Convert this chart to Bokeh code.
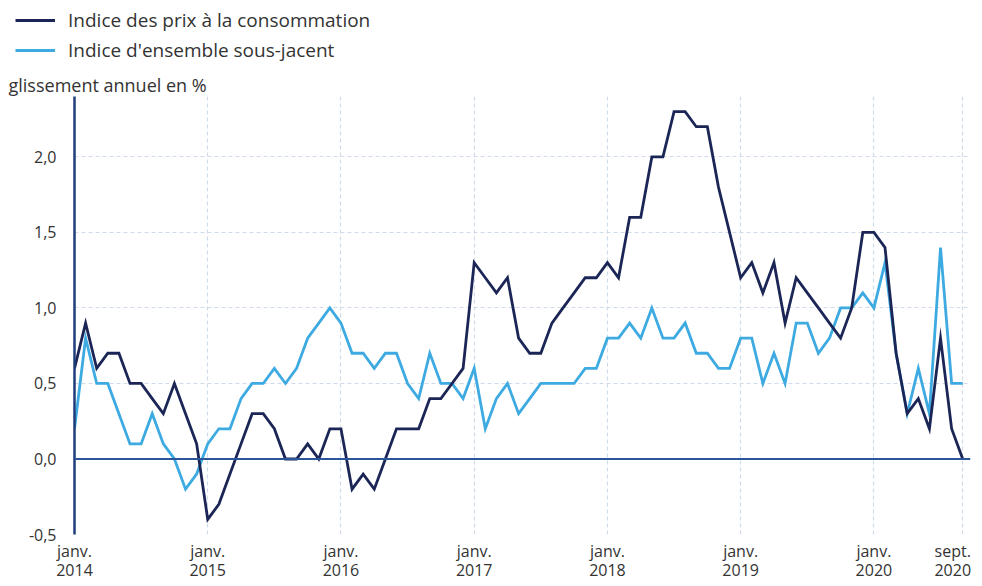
from bokeh.plotting import figure
from bokeh.layouts import column
from bokeh.models import Range1d, FixedTicker, Span, Legend, LegendItem
from bokeh.embed import file_html
from bokeh.resources import INLINE

# Monthly year-on-year change (%), janv. 2014 -> sept. 2020
cpi = [0.6, 0.9, 0.6, 0.7, 0.7, 0.5, 0.5, 0.4, 0.3, 0.5, 0.3, 0.1,
       -0.4, -0.3, -0.1, 0.1, 0.3, 0.3, 0.2, 0.0, 0.0, 0.1, 0.0, 0.2,
       0.2, -0.2, -0.1, -0.2, 0.0, 0.2, 0.2, 0.2, 0.4, 0.4, 0.5, 0.6,
       1.3, 1.2, 1.1, 1.2, 0.8, 0.7, 0.7, 0.9, 1.0, 1.1, 1.2, 1.2,
       1.3, 1.2, 1.6, 1.6, 2.0, 2.0, 2.3, 2.3, 2.2, 2.2, 1.8, 1.5,
       1.2, 1.3, 1.1, 1.3, 0.9, 1.2, 1.1, 1.0, 0.9, 0.8, 1.0, 1.5,
       1.5, 1.4, 0.7, 0.3, 0.4, 0.2, 0.8, 0.2, 0.0]
core = [0.2, 0.8, 0.5, 0.5, 0.3, 0.1, 0.1, 0.3, 0.1, 0.0, -0.2, -0.1,
        0.1, 0.2, 0.2, 0.4, 0.5, 0.5, 0.6, 0.5, 0.6, 0.8, 0.9, 1.0,
        0.9, 0.7, 0.7, 0.6, 0.7, 0.7, 0.5, 0.4, 0.7, 0.5, 0.5, 0.4,
        0.6, 0.2, 0.4, 0.5, 0.3, 0.4, 0.5, 0.5, 0.5, 0.5, 0.6, 0.6,
        0.8, 0.8, 0.9, 0.8, 1.0, 0.8, 0.8, 0.9, 0.7, 0.7, 0.6, 0.6,
        0.8, 0.8, 0.5, 0.7, 0.5, 0.9, 0.9, 0.7, 0.8, 1.0, 1.0, 1.1,
        1.0, 1.3, 0.7, 0.3, 0.6, 0.3, 1.4, 0.5, 0.5]
month_index = list(range(len(cpi)))

series_names = ["Indice des prix à la consommation", "Indice d'ensemble sous-jacent"]
y_ticks = [-0.5, 0, 0.5, 1, 1.5, 2]
y_tick_labels = ["-0,5", "0,0", "0,5", "1,0", "1,5", "2,0"]
x_ticks = [0, 12, 24, 36, 48, 60, 72, 79.1]
x_tick_labels = ["janv.\n2014", "janv.\n2015", "janv.\n2016", "janv.\n2017",
                 "janv.\n2018", "janv.\n2019", "janv.\n2020", "sept.\n2020"]
x_grid = [0, 12, 24, 36, 48, 60, 72, 80]
y_grid = [-0.5, 0.5, 1, 1.5, 2]
y_label = "glissement annuel en %"

FONT = "Open Sans"
DARK = "#1b2656"
LIGHT = "#3eaae2"
TXT = "#333333"

# ---- legend strip (top) ----
leg = figure(width=982, height=64, x_range=Range1d(0, 80.7), y_range=Range1d(10, 11),
             output_backend="svg", toolbar_location=None,
             x_axis_location=None, y_axis_location=None,
             min_border_left=0, min_border_right=0, min_border_top=0, min_border_bottom=0)
leg.frame_align = False
leg.outline_line_color = None
leg.xgrid.visible = False
leg.ygrid.visible = False
lc = leg.line(month_index, cpi, line_color=DARK, line_width=2.8)
lk = leg.line(month_index, core, line_color=LIGHT, line_width=2.8)
legend = Legend(items=[LegendItem(label=series_names[0], renderers=[lc]),
                       LegendItem(label=series_names[1], renderers=[lk])],
                location=(15, 1), padding=0, margin=0, spacing=4,
                glyph_width=40, glyph_height=26, label_height=26, label_standoff=13,
                label_text_font=FONT, label_text_font_size="19px", label_text_color=TXT,
                border_line_color=None, background_fill_alpha=0)
leg.add_layout(legend)

# ---- main chart ----
p = figure(width=982, height=522, x_range=Range1d(0, 80.7), y_range=Range1d(-0.5, 2.4),
           output_backend="svg", toolbar_location=None, title=y_label,
           min_border_left=74, min_border_right=12, min_border_top=32, min_border_bottom=52)
p.frame_align = False
p.outline_line_color = None

p.title.align = "left"
p.title.offset = -66
p.title.text_font = FONT
p.title.text_font_size = "18px"
p.title.text_font_style = "normal"
p.title.text_color = TXT
p.title.standoff = 0

r_core = p.line(month_index, core, line_color=LIGHT, line_width=2.8, line_join="miter")
r_cpi = p.line(month_index, cpi, line_color=DARK, line_width=2.8, line_join="miter")

p.add_layout(Span(location=0, dimension="width", line_color="#2a5599", line_width=2))

p.yaxis.ticker = FixedTicker(ticks=y_ticks)
p.yaxis.major_label_overrides = dict(zip(y_ticks, y_tick_labels))
p.yaxis.axis_line_color = "#1f3d7a"
p.yaxis.axis_line_width = 2.5
p.yaxis.major_tick_line_color = None
p.yaxis.minor_tick_line_color = None
p.yaxis.major_tick_out = 0
p.yaxis.major_tick_in = 0
p.yaxis.minor_tick_out = 0
p.yaxis.major_label_standoff = 18
p.yaxis.major_label_text_font = FONT
p.yaxis.major_label_text_font_size = "16px"
p.yaxis.major_label_text_color = TXT

p.xaxis.ticker = FixedTicker(ticks=x_ticks)
p.xaxis.major_label_overrides = dict(zip(x_ticks, x_tick_labels))
p.xaxis.axis_line_color = None
p.xaxis.major_tick_line_color = None
p.xaxis.minor_tick_line_color = None
p.xaxis.major_tick_out = 0
p.xaxis.major_tick_in = 0
p.xaxis.minor_tick_out = 0
p.xaxis.major_label_standoff = 5
p.xaxis.major_label_text_font = FONT
p.xaxis.major_label_text_font_size = "16px"
p.xaxis.major_label_text_color = TXT
p.xaxis.major_label_text_line_height = 0.9

p.xgrid.ticker = FixedTicker(ticks=x_grid)
p.ygrid.ticker = FixedTicker(ticks=y_grid)
p.xgrid.grid_line_color = "#cfdbe9"
p.ygrid.grid_line_color = "#cfdbe9"
p.xgrid.grid_line_dash = "4 3"
p.ygrid.grid_line_dash = "4 3"
p.xgrid.grid_line_width = 1.2
p.ygrid.grid_line_width = 1.2

open("out.html", "w").write(file_html(column(leg, p, spacing=0), INLINE))
